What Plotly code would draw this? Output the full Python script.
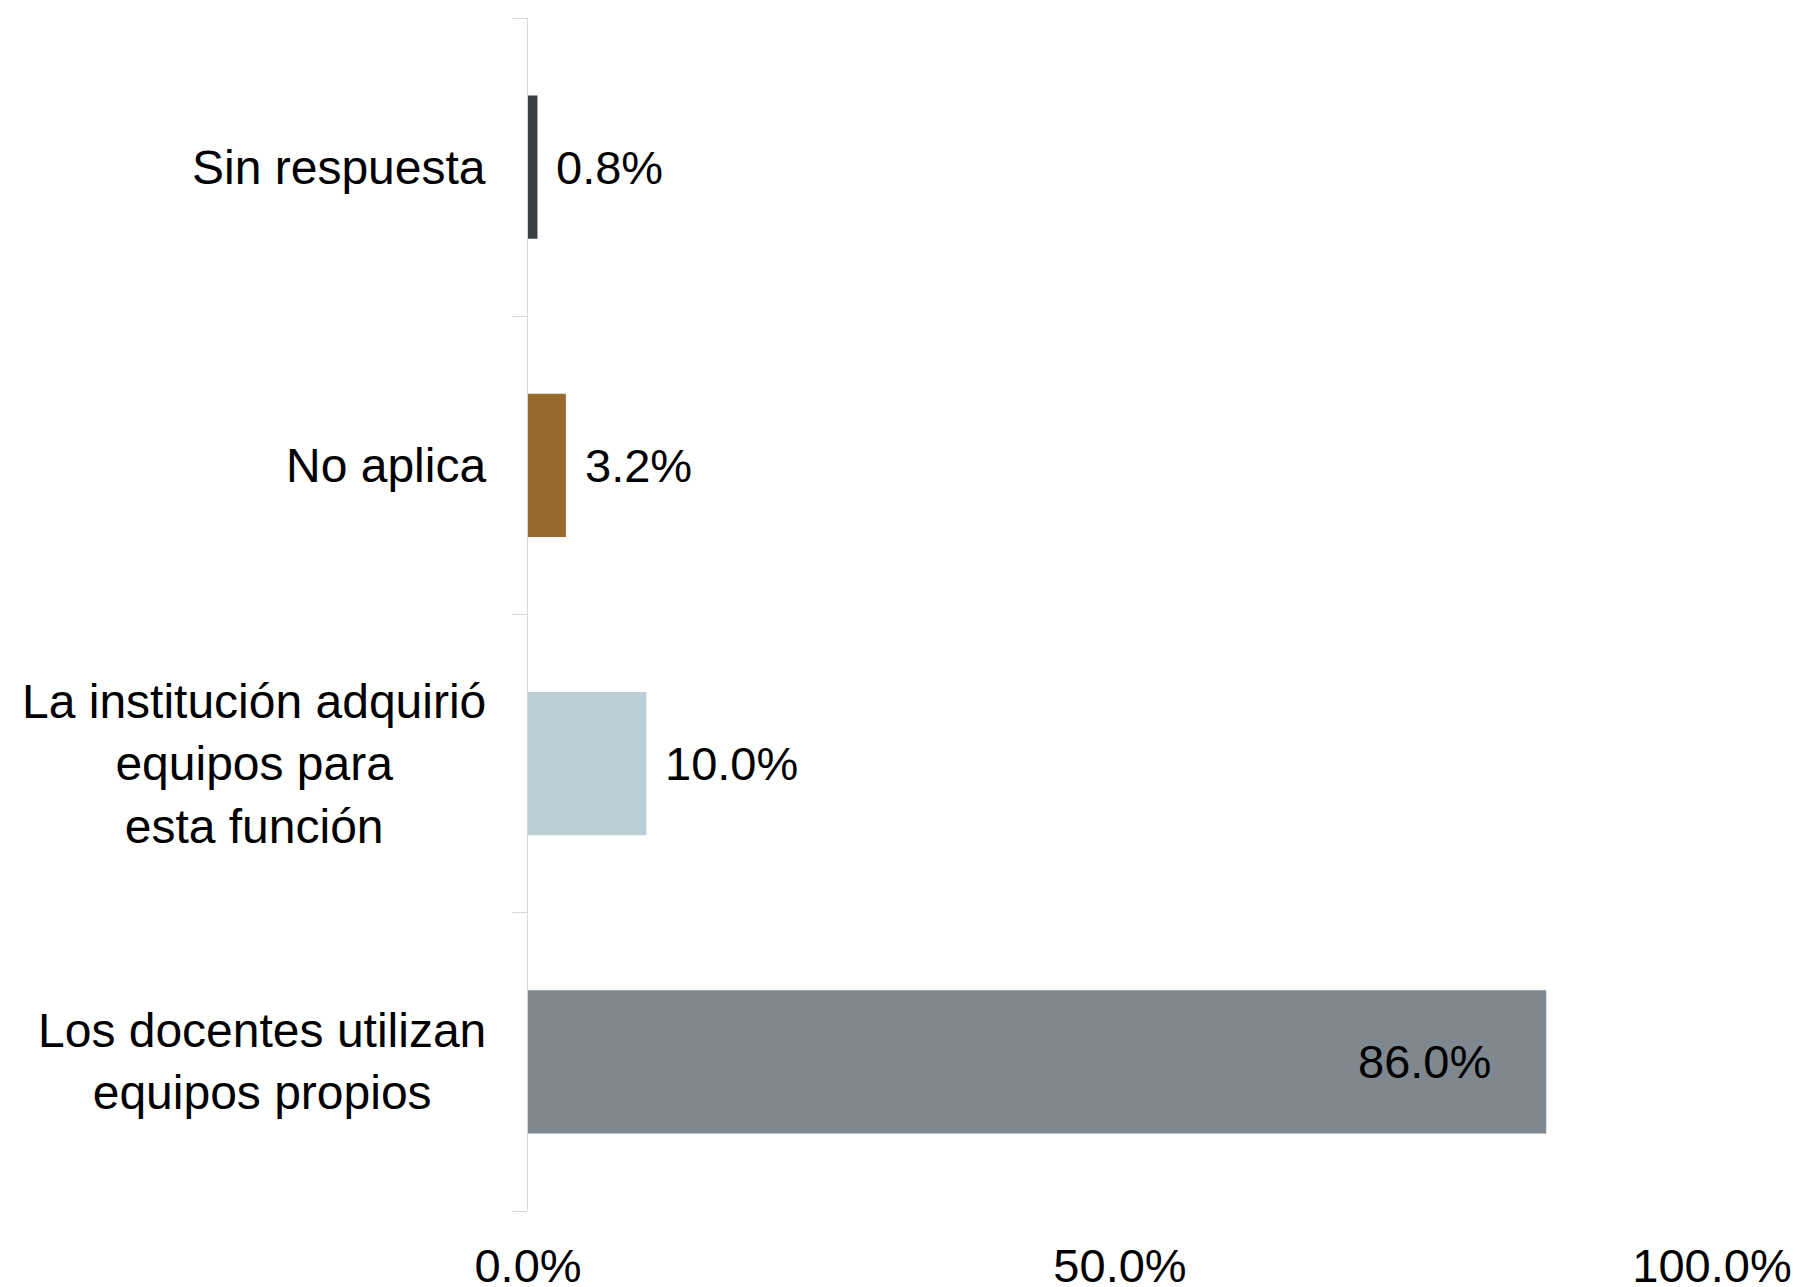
import plotly.graph_objects as go

# Data (bottom to top)
categories = [
    "Los docentes utilizan<br>equipos propios",
    "La institución adquirió<br>equipos para<br>esta función",
    "No aplica",
    "Sin respuesta",
]
values = [86.0, 10.0, 3.2, 0.8]
x_tickvals = [0, 50, 100]
x_ticktext = ["0.0%", "50.0%", "100.0%"]

colors = ["#7e888e", "#bccfd6", "#986a2e", "#3c3f42"]
FONT = "Liberation Sans, Arial, sans-serif"
FS = 47

ypos = list(range(len(categories)))

fig = go.Figure()
fig.add_trace(go.Bar(
    x=values,
    y=ypos,
    orientation="h",
    width=0.48,
    marker=dict(color=colors, line=dict(width=0)),
    hoverinfo="skip",
))

annotations = []
for i, (cat, v) in enumerate(zip(categories, values)):
    annotations.append(dict(
        x=0, xref="paper", y=i, yref="y",
        text=cat, showarrow=False,
        xanchor="right", yanchor="middle", align="center",
        xshift=-40,
        font=dict(family=FONT, size=48, color="#000000"),
    ))
    label = f"{v:.1f}%"
    if v > 50:
        annotations.append(dict(
            x=v, xref="x", y=i, yref="y", text=label, showarrow=False,
            xanchor="right", yanchor="middle", xshift=-53,
            font=dict(family=FONT, size=FS, color="#000000"),
        ))
    else:
        annotations.append(dict(
            x=v, xref="x", y=i, yref="y", text=label, showarrow=False,
            xanchor="left", yanchor="middle", xshift=17,
            font=dict(family=FONT, size=FS, color="#000000"),
        ))

fig.update_layout(
    width=1796, height=1279,
    margin=dict(l=520, r=92, t=10, b=76, autoexpand=False),
    paper_bgcolor="white", plot_bgcolor="white",
    showlegend=False,
    bargap=0.52,
    annotations=annotations,
    font=dict(family=FONT, size=FS, color="#000000"),
    xaxis=dict(
        range=[0, 100], tickvals=x_tickvals, ticktext=x_ticktext,
        showgrid=False, zeroline=False, showline=False, ticks="",
        tickfont=dict(family=FONT, size=FS, color="#000000"),
        ticklabelstandoff=23, automargin=False, fixedrange=True,
    ),
    yaxis=dict(
        range=[-0.5, 3.5], tickvals=[-0.5, 0.5, 1.5, 2.5, 3.5],
        showticklabels=False, ticks="outside", ticklen=15, tickwidth=1,
        tickcolor="#d9d9d9", showline=True, linecolor="#d9d9d9", linewidth=1,
        showgrid=False, zeroline=False, automargin=False, fixedrange=True,
    ),
)

fig.write_html("out.html")
